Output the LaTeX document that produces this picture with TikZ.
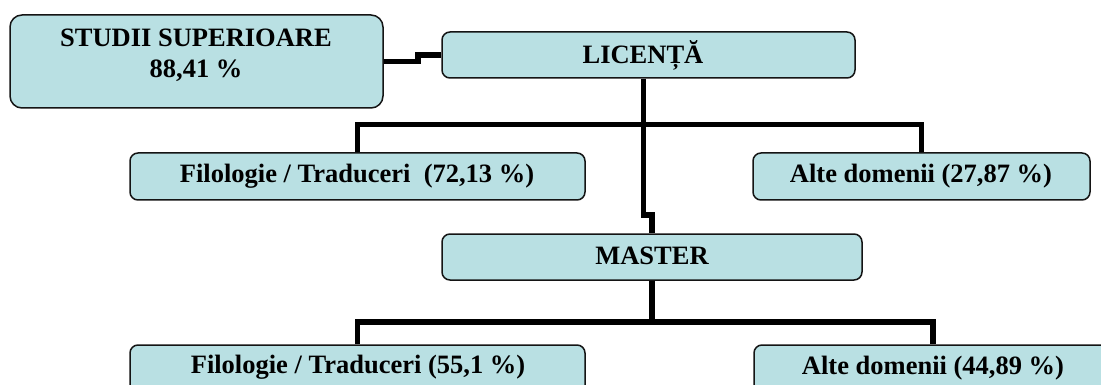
\documentclass[tikz,border=0pt]{standalone}
\usepackage{fontspec}
\setmainfont{Liberation Serif}
\definecolor{boxfill}{RGB}{185,224,227}
\definecolor{boxline}{RGB}{20,20,20}
\tikzset{
  box/.style={draw=boxline, line width=1.5pt, fill=boxfill, rounded corners=8pt, rectangle, inner sep=0pt},
  txt/.style={font=\fontsize{26.5}{31}\selectfont\bfseries, align=center, inner sep=0pt},
  conn/.style={draw=black, line width=5.5pt, line join=miter, line cap=butt}
}
\begin{document}
\begin{tikzpicture}[x=1pt,y=-1pt]
\useasboundingbox (0,0) rectangle (1101,385);
\clip (0,0) rectangle (1101,385);
% boxes
\node[box, rounded corners=12pt, minimum width=373pt, minimum height=93pt] (studii) at (196.5,61.5) {};
\node[box, minimum width=413pt, minimum height=46pt] (lic) at (648.5,55) {};
\node[box, minimum width=455pt, minimum height=47pt] (fil1) at (357.5,176.5) {};
\node[box, minimum width=337pt, minimum height=47pt] (alt1) at (921.5,176.5) {};
\node[box, minimum width=420pt, minimum height=46pt] (master) at (652,257) {};
\node[box, minimum width=455pt, minimum height=80pt] (fil2) at (357.5,385) {};
\node[box, minimum width=358pt, minimum height=80pt] (alt2) at (933,385) {};
% texts
\node[txt] (studiit) at (196,55) {STUDII SUPERIOARE\\88,41 \%};
\node[txt] (lict) at (643,55) {LICENȚĂ};
\node[txt] (fil1t) at (357,176) {Filologie / Traduceri\ \ (72,13 \%)};
\node[txt] (alt1t) at (921,176) {Alte domenii (27,87 \%)};
\node[txt] (mastert) at (652,256) {MASTER};
\node[txt] (fil2t) at (358,367) {Filologie / Traduceri (55,1 \%)};
\node[txt] (alt2t) at (933,368) {Alte domenii (44,89 \%)};
% connectors
\coordinate (j0) at (418,61.5);
\coordinate (j1) at (643.5,215);
\coordinate (bar1) at (643.5,124.5);
\coordinate (bar2) at (652,322);
\draw[conn] (studii.east) -- (j0) |- (lic.west);
\draw[conn] ([xshift=-5pt]lic.south) -- (j1) -| (master.north);
\draw[conn] (fil1.north) |- (bar1) -| (alt1.north);
\draw[conn] (fil2.north) |- (bar2) -| (alt2.north);
\draw[conn] (master.south) -- (bar2);
\end{tikzpicture}
\end{document}
